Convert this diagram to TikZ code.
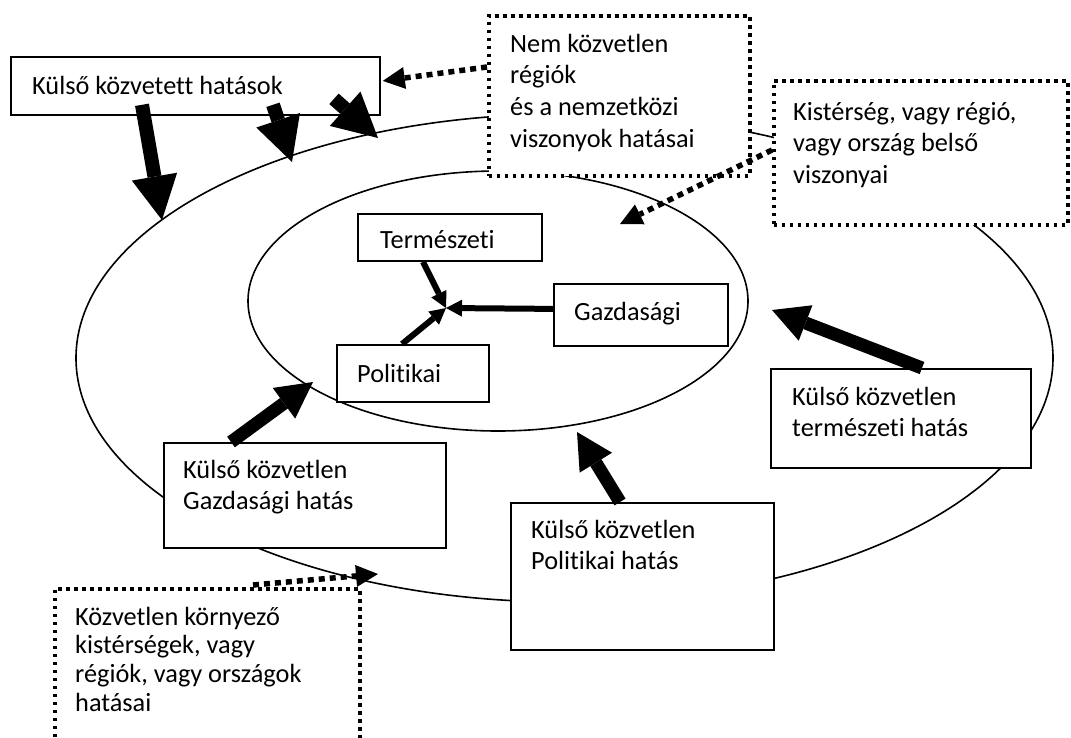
\documentclass[tikz,border=0pt]{standalone}
\usepackage{fontspec}
\setmainfont[Ligatures={NoCommon}]{Carlito}
\usetikzlibrary{arrows.meta,shapes.geometric,calc}
\begin{document}
\begin{tikzpicture}[x=1pt,y=-1pt,
  box/.style={draw,fill=white,line width=1.8pt,inner sep=0pt,anchor=north west},
  dbox/.style={draw,fill=white,line width=3.6pt,dash pattern=on 3.6pt off 4.4pt,inner sep=0pt,anchor=north west},
  txt/.style={inner sep=0pt,anchor=base west,font=\fontsize{26.3}{31.7}\selectfont},
  oval/.style={draw,ellipse,inner sep=0pt,line width=1.6pt},
  bigarr/.style={line width=14pt,-{Triangle[width=46pt,length=44pt,line width=0pt]}},
  midarr/.style={line width=13pt,-{Triangle[width=38pt,length=36pt,line width=0pt]}},
  smallarr/.style={line width=6pt,-{Triangle[width=17pt,length=16pt,line width=0pt]}},
  dotarr/.style={line width=5.5pt,dash pattern=on 6pt off 5pt,-{Triangle[width=22pt,length=22pt,line width=0pt]}},
]
\useasboundingbox (0,0) rectangle (1071,737);

% ellipses
\node[oval,minimum width=977pt,minimum height=488pt] (outer) at (564.5,358) {};
\node[oval,minimum width=500pt,minimum height=260pt] (inner) at (498,301) {};

% boxes
\node[box,minimum width=369pt,minimum height=58pt] (kkh) at (10,56) {};
\node[dbox,minimum width=261pt,minimum height=160pt] (nem) at (487,14) {};
\node[dbox,minimum width=294pt,minimum height=144pt] (kis) at (772,79) {};
\node[box,minimum width=184pt,minimum height=47pt] (term) at (357,213) {};
\node[box,minimum width=174pt,minimum height=62pt] (gazd) at (553,283) {};
\node[box,minimum width=152pt,minimum height=57pt] (pol) at (336,344) {};
\node[box,minimum width=282pt,minimum height=105pt] (kkg) at (163,442) {};
\node[box,minimum width=263pt,minimum height=147pt] (kkp) at (510,502) {};
\node[box,minimum width=260pt,minimum height=99pt] (kkt) at (770,368) {};
\node[dbox,minimum width=305pt,minimum height=173pt] (kor) at (53,587) {};

% texts
\node[txt] (kkhtxt) at (32,94) {Külső közvetett hatások};
\node[txt] (nemtxt) at (510,52) {\parbox[t]{235pt}{Nem közvetlen\\régiók\\és a nemzetközi\\viszonyok hatásai}};
\node[txt] (kistxt) at (793,120) {\parbox[t]{270pt}{Kistérség, vagy régió,\\vagy ország belső\\viszonyai}};
\node[txt] (termtxt) at (380,248) {Természeti};
\node[txt] (gazdtxt) at (574,320) {Gazdasági};
\node[txt] (poltxt) at (357,382) {Politikai};
\node[txt] (kkgtxt) at (183,478) {\parbox[t]{255pt}{Külső közvetlen\\Gazdasági hatás}};
\node[txt] (kkptxt) at (531,538) {\parbox[t]{235pt}{Külső közvetlen\\Politikai hatás}};
\node[txt] (kkttxt) at (792,405) {\parbox[t]{235pt}{Külső közvetlen\\természeti hatás}};
\node[txt,font=\fontsize{26.3}{28.7}\selectfont] (kortxt) at (75,625) {\parbox[t]{280pt}{Közvetlen környező\\kistérségek, vagy\\régiók, vagy országok\\hatásai}};

% tips
\coordinate (t1) at (162,220);
\coordinate (t2) at (292,162);
\coordinate (t3) at (378,138);
\coordinate (t4) at (313,382);
\coordinate (t5) at (577,432);
\coordinate (t6) at (772,310);
\coordinate (c) at (446,308);
\coordinate (d2) at (620,224);
\coordinate (d3) at (378,574);

% thick arrows
\draw[bigarr] (kkh.south west) ++(132,-11) -- (t1);
\draw[bigarr] (kkh.south west) ++(263,-11) -- (t2);
\draw[bigarr] (kkh.south west) ++(324,-17) -- (t3);
\draw[midarr] (kkg.north west) ++(68,0) -- (t4);
\draw[midarr] (kkp.north west) ++(110,0) -- (t5);
\draw[midarr] (kkt.north west) ++(152,0) -- (t6);

% centre arrows
\draw[smallarr] (term.south west) ++(66,0) -- (c);
\draw[smallarr] (gazd.west) ++(0,-6) -- (c);
\draw[smallarr] (pol.north west) ++(66,0) -- (c);

% dotted arrows
\draw[dotarr] (nem.north west) ++(0,53) -- ([shift={(2,-5)}]kkh.east);
\draw[dotarr] (kis.north west) ++(0,71) -- (d2);
\draw[dotarr] (kor.north west) ++(200,-2) -- (d3);
\end{tikzpicture}
\end{document}
